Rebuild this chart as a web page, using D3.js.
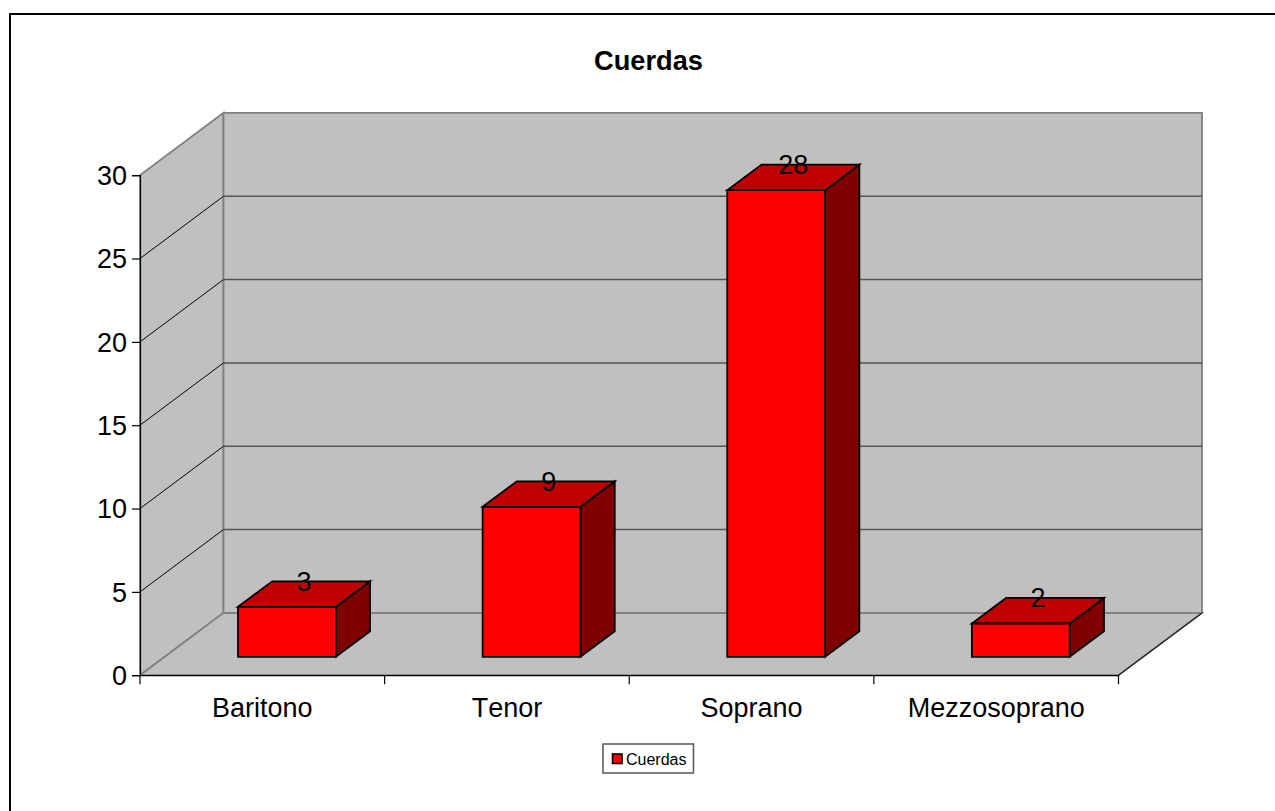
<!DOCTYPE html>
<html><head><meta charset="utf-8">
<script src="https://cdnjs.cloudflare.com/ajax/libs/d3/7.8.5/d3.min.js"></script>
<style>html,body{margin:0;padding:0;background:#fff;overflow:hidden}svg{display:block}text{font-family:"Liberation Sans",Arial,sans-serif;fill:#000;font-kerning:none}</style>
</head><body><svg id="c" width="1275" height="811"></svg>
<script>
const categories=["Baritono","Tenor","Soprano","Mezzosoprano"];
const values=[3,9,28,2];
const yTicks=[0,5,10,15,20,25,30];
const seriesName="Cuerdas";
const chartTitle="Cuerdas";

const svg=d3.select("#c");
const x0=140,x1=1118.5,yB=675.2,yT=175.2;
const depth={x:83.5,y:-62.3};
const gapDepth=0.295,barDepth=0.41;
const x=d3.scaleBand().domain(categories).range([x0,x1]).paddingInner(0.6).paddingOuter(0.3);
const y=d3.scaleLinear().domain([0,30]).range([yB,yT]);
const line=d3.line();
const P=(px,py,d=0)=>[px+depth.x*d,py+depth.y*d];
const C={wall:"#c0c0c0",edge:"#808080",front:"#ff0000",top:"#c00000",side:"#800000"};
const FS=27;

// frame: only the top and left rules run inside the picture
svg.append("path").attr("d",line([[10,811],[10,14],[1275,14]])).attr("fill","none").attr("stroke","#000").attr("stroke-width",2);
svg.append("text").attr("x",648.5).attr("y",70).attr("text-anchor","middle").attr("font-size",27.2).attr("font-weight","bold").text(chartTitle);

// walls and floor
const poly=(pts,fill,stroke,sw)=>svg.append("path").attr("d",line(pts)+"Z").attr("fill",fill).attr("stroke",stroke||"none").attr("stroke-width",sw||0).attr("stroke-linejoin","miter");
poly([P(x0,yB),P(x0,yT),P(x0,yT,1),P(x0,yB,1)],C.wall,C.edge,1.8);
poly([P(x0,yB),P(x0,yB,1),P(x1,yB,1),P(x1,yB)],C.wall,C.edge,1.8);
poly([P(x0,yT,1),P(x1,yT,1),P(x1,yB,1),P(x0,yB,1)],C.wall,C.edge,1.8);

// gridlines
yTicks.filter(t=>t>0&&t<30).forEach(t=>{
  svg.append("path").attr("d",line([P(x0,y(t)),P(x0,y(t),1)])).attr("fill","none").attr("stroke","#000").attr("stroke-width",1);
  svg.append("path").attr("d",line([P(x0,y(t),1),P(x1,y(t),1)])).attr("fill","none").attr("stroke","#555").attr("stroke-width",1.5);
});
svg.append("path").attr("d",line([P(x1,yB),P(x1,yB,1)])).attr("fill","none").attr("stroke","#222").attr("stroke-width",1.2);

// axes
const gy=svg.append("g").attr("transform",`translate(${x0},0)`).call(d3.axisLeft(y).tickValues(yTicks).tickSize(8).tickPadding(4));
const xEdges=d3.range(categories.length+1).map(i=>x0+(x1-x0)*i/categories.length);
const gx=svg.append("g").attr("transform",`translate(0,${yB})`).call(d3.axisBottom(x).tickSize(0));
[gy,gx].forEach(g=>{g.selectAll("text").attr("font-size",FS).attr("fill","#000");g.selectAll("path,line").attr("stroke","#000").attr("stroke-width",1.2);});
gy.selectAll("text").attr("x",-13).attr("y",0.8);
gx.selectAll("text").attr("y",23).attr("dy","0.71em");
gx.selectAll(".edge").data(xEdges).enter().append("line").attr("class","edge").attr("x1",d=>d).attr("x2",d=>d).attr("y1",0).attr("y2",9).attr("stroke","#000").attr("stroke-width",1.2);

// bars
categories.forEach((c,i)=>{
  const l=x(c),r=l+x.bandwidth(),v=values[i],d0=gapDepth,d1=gapDepth+barDepth;
  const sk="#000",sw=1.8;
  poly([P(r,y(0),d0),P(r,y(v),d0),P(r,y(v),d1),P(r,y(0),d1)],C.side,sk,sw);
  poly([P(l,y(v),d0),P(l,y(v),d1),P(r,y(v),d1),P(r,y(v),d0)],C.top,sk,sw);
  poly([P(l,y(0),d0),P(l,y(v),d0),P(r,y(v),d0),P(r,y(0),d0)],C.front,sk,sw);
  svg.append("text").attr("x",(l+r)/2+depth.x*(d0+barDepth/2)).attr("y",P(l,y(v),d1)[1]+9.5).attr("text-anchor","middle").attr("font-size",FS).text(v);
});

// legend
svg.append("rect").attr("x",603).attr("y",744).attr("width",90.5).attr("height",29).attr("fill","#fff").attr("stroke","#555").attr("stroke-width",1.5);
svg.append("rect").attr("x",612.5).attr("y",754).attr("width",9.5).attr("height",9.5).attr("fill",C.front).attr("stroke","#000").attr("stroke-width",1.6);
svg.append("text").attr("x",626).attr("y",765).attr("font-size",16).text(seriesName);
</script></body></html>
